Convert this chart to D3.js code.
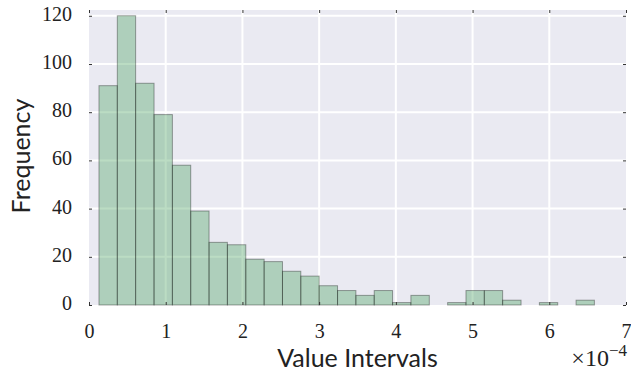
<!DOCTYPE html>
<html>
<head>
<meta charset="utf-8">
<script src="https://cdn.jsdelivr.net/npm/d3@7"></script>
<style>
body { margin: 0; background: #fff; }
</style>
</head>
<body>
<svg width="631" height="376"></svg>
<script>
// histogram counts, one per bin
const counts = [91, 120, 92, 79, 58, 39, 26, 25, 19, 18, 14, 12, 8, 6,
                4, 6, 1, 4, 0, 1, 6, 6, 2, 0, 1, 0, 2];
// bin edges in units of 1e-4
const binEdges = [0.130, 0.369, 0.608, 0.848, 1.087, 1.326, 1.565, 1.804,
                  2.044, 2.283, 2.522, 2.761, 3.000, 3.240, 3.479, 3.718,
                  3.957, 4.196, 4.436, 4.675, 4.914, 5.153, 5.392, 5.632,
                  5.871, 6.110, 6.349, 6.588];
const xTicks = [0, 1, 2, 3, 4, 5, 6, 7];
const yTicks = [0, 20, 40, 60, 80, 100, 120];

const svg = d3.select('svg');
const plotL = 89, plotR = 626, plotT = 10, plotB = 305;

const x = d3.scaleLinear().domain([0, 7]).range([plotL, plotR]);
const y = d3.scaleLinear().domain([0, 122.4]).range([plotB, plotT]);

const bins = counts.map((c, i) => ({x0: binEdges[i], x1: binEdges[i + 1], n: c}));

// background
svg.append('rect')
    .attr('x', plotL).attr('y', plotT)
    .attr('width', plotR - plotL).attr('height', plotB - plotT)
    .attr('fill', '#EAEAF2');

// grid
const grid = svg.append('g').attr('stroke', '#fff').attr('stroke-width', 2);
grid.selectAll('.gx').data(xTicks.slice(1, -1)).enter().append('line')
    .attr('x1', d => x(d)).attr('x2', d => x(d))
    .attr('y1', plotT).attr('y2', plotB);
grid.selectAll('.gy').data(yTicks.slice(1)).enter().append('line')
    .attr('x1', plotL).attr('x2', plotR)
    .attr('y1', d => y(d)).attr('y2', d => y(d));

// bars
svg.append('g').selectAll('rect')
    .data(bins)
    .enter().append('rect')
    .attr('x', d => x(d.x0))
    .attr('y', d => y(d.n))
    .attr('width', d => x(d.x1) - x(d.x0))
    .attr('height', d => y(0) - y(d.n))
    .attr('fill', '#55a868')
    .attr('fill-opacity', 0.4)
    .attr('stroke', '#000')
    .attr('stroke-opacity', 0.35)
    .attr('stroke-width', 1);

// axes: small inward ticks, serif labels
const tickFont = '"Liberation Serif", serif';

const xAxis = svg.append('g')
    .attr('transform', 'translate(0,' + plotB + ')')
    .call(d3.axisBottom(x).tickValues(xTicks).tickFormat(d3.format('d'))
        .tickSizeInner(-3).tickSizeOuter(0).tickPadding(19));
const yAxis = svg.append('g')
    .attr('transform', 'translate(' + plotL + ',0)')
    .call(d3.axisLeft(y).tickValues(yTicks).tickFormat(d3.format('d'))
        .tickSizeInner(-3).tickSizeOuter(0).tickPadding(17));
const xTop = svg.append('g')
    .attr('transform', 'translate(0,' + plotT + ')')
    .call(d3.axisTop(x).tickValues(xTicks).tickFormat('').tickSizeInner(-3).tickSizeOuter(0));
const yRight = svg.append('g')
    .attr('transform', 'translate(' + plotR + ',0)')
    .call(d3.axisRight(y).tickValues(yTicks).tickFormat('').tickSizeInner(-3).tickSizeOuter(0));

[xAxis, yAxis, xTop, yRight].forEach(a => {
    a.attr('font-size', null).attr('font-family', null);
    a.select('.domain').remove();
    a.selectAll('.tick line').attr('stroke', '#333');
    a.selectAll('.tick text')
        .attr('fill', '#222')
        .style('font-family', tickFont)
        .style('font-size', '20px');
});
yAxis.selectAll('.tick text').attr('dy', '0.22em');

// offset text
const offset = svg.append('text')
    .attr('x', 627).attr('y', 366)
    .attr('text-anchor', 'end')
    .attr('fill', '#222')
    .style('font-family', tickFont)
    .style('font-size', '24px');
offset.append('tspan').text('\u00d710');
offset.append('tspan').attr('dy', -10).style('font-size', '17px').text('\u22124');

// axis titles
svg.append('text')
    .attr('x', (plotL + plotR) / 2).attr('y', 367)
    .attr('text-anchor', 'middle')
    .attr('fill', '#222')
    .style('font-family', 'Lato, sans-serif')
    .style('font-size', '25px')
    .text('Value Intervals');

svg.append('text')
    .attr('transform', 'translate(30,156) rotate(-90)')
    .attr('text-anchor', 'middle')
    .attr('fill', '#222')
    .style('font-family', 'Lato, sans-serif')
    .style('font-size', '25px')
    .text('Frequency');
</script>
</body>
</html>
